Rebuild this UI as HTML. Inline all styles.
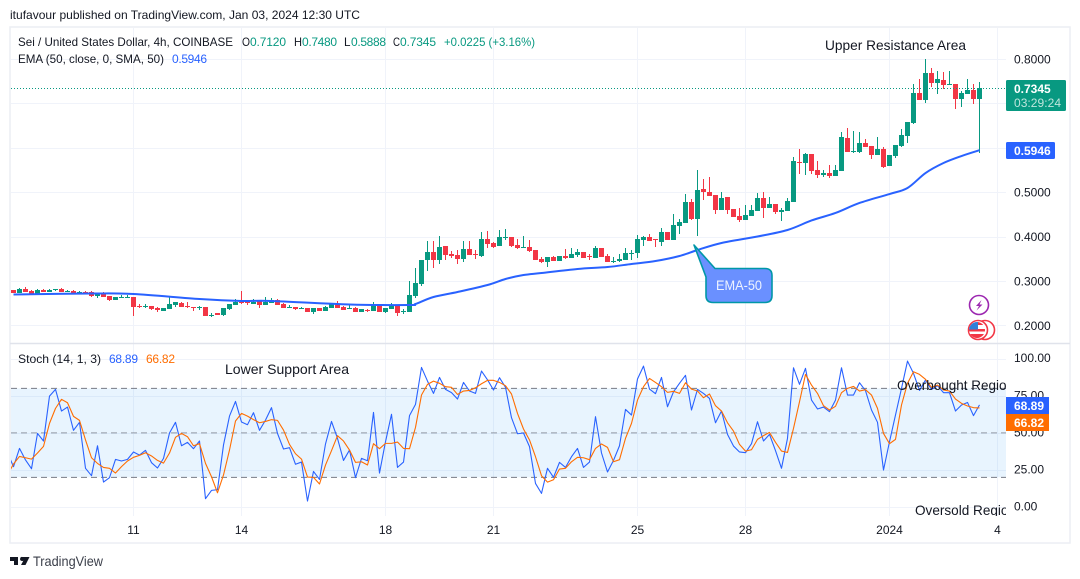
<!DOCTYPE html>
<html lang="en">
<head>
<meta charset="utf-8">
<title>SEI/USD 4h chart</title>
<style>
  html, body { margin: 0; padding: 0; background: #ffffff; width: 1080px; height: 579px; overflow: hidden; }
  svg { display: block; }
  text { font-family: "Liberation Sans", Arial, sans-serif; font-size: 12px; fill: #131722; }
</style>
</head>
<body>
<svg id="chart" xmlns="http://www.w3.org/2000/svg" width="1080" height="579" viewBox="0 0 1080 579">
  <defs>
    <clipPath id="plot-clip"><rect x="11" y="28" width="995" height="488"></rect></clipPath>
    <clipPath id="flag-clip"><circle cx="977" cy="330" r="8"></circle></clipPath>
  </defs>
  <rect x="0" y="0" width="1080" height="579" fill="#ffffff"></rect>
  <g id="grid"></g>
  <rect x="11" y="388.3" width="995" height="89" fill="#2196f3" fill-opacity="0.1"></rect>
  <g id="stoch-levels" clip-path="url(#plot-clip)"></g>
  <g id="candles" clip-path="url(#plot-clip)"></g>
  <line x1="11" x2="1006" y1="88.5" y2="88.5" stroke="#089981" stroke-width="1" stroke-dasharray="1 2"></line>
  <g id="lines" clip-path="url(#plot-clip)"></g>
  <rect x="10" y="27" width="1060" height="516" fill="none" stroke="#eceef4" stroke-width="1.5"></rect>
  <line x1="10" x2="1070" y1="343.5" y2="343.5" stroke="#e0e3eb" stroke-width="1.5"></line>

  <text x="10" y="19" textLength="350" lengthAdjust="spacingAndGlyphs" fill="#2a2e39">itufavour published on TradingView.com, Jan 03, 2024 12:30 UTC</text>

  <g>
    <text x="18" y="46" textLength="215" lengthAdjust="spacingAndGlyphs">Sei / United States Dollar, 4h, COINBASE</text>
    <text x="242" y="46" textLength="8" lengthAdjust="spacingAndGlyphs">O</text>
    <text x="250" y="46" textLength="36" style="fill:#089981">0.7120</text>
    <text x="294" y="46" textLength="8" lengthAdjust="spacingAndGlyphs">H</text>
    <text x="302" y="46" textLength="35" style="fill:#089981">0.7480</text>
    <text x="344" y="46" textLength="6.5" lengthAdjust="spacingAndGlyphs">L</text>
    <text x="351" y="46" textLength="35" style="fill:#089981">0.5888</text>
    <text x="393" y="46" textLength="7" lengthAdjust="spacingAndGlyphs">C</text>
    <text x="400" y="46" textLength="36" style="fill:#089981">0.7345</text>
    <text x="444" y="46" textLength="91" lengthAdjust="spacingAndGlyphs" style="fill:#089981">+0.0225 (+3.16%)</text>
    <text x="18" y="63" textLength="146" lengthAdjust="spacingAndGlyphs">EMA (50, close, 0, SMA, 50)</text>
    <text x="172" y="63" textLength="35" style="fill:#2962ff">0.5946</text>
  </g>

  <g>
    <text x="18" y="363" textLength="83" lengthAdjust="spacingAndGlyphs">Stoch (14, 1, 3)</text>
    <text x="109" y="363" textLength="29" style="fill:#2962ff">68.89</text>
    <text x="146" y="363" textLength="29" style="fill:#ff6d00">66.82</text>
  </g>

  <g clip-path="url(#plot-clip)">
    <text x="825" y="50" textLength="141" lengthAdjust="spacingAndGlyphs" style="font-size:14px">Upper Resistance Area</text>
    <text x="225" y="374" textLength="124" lengthAdjust="spacingAndGlyphs" style="font-size:14px">Lower Support Area</text>
    <text x="897" y="390" textLength="117" lengthAdjust="spacingAndGlyphs" style="font-size:14px">Overbought Region</text>
    <text x="915" y="515" textLength="101" lengthAdjust="spacingAndGlyphs" style="font-size:14px">Oversold Region</text>
  </g>

  <g>
    <path d="M694 245 L715 268.5 L765 268.5 Q772 268.5 772 275.5 L772 295.5 Q772 302.5 765 302.5 L713 302.5 Q706 302.5 706 295.5 L706 277 Z" fill="#6a90ff" stroke="#0097a7" stroke-width="1.6" stroke-linejoin="round"></path>
    <text x="716" y="290" textLength="46" lengthAdjust="spacingAndGlyphs" style="font-size:14px;fill:#eef3ff">EMA-50</text>
  </g>

  <g>
    <circle cx="979" cy="305" r="9.5" fill="#ffffff" stroke="#9c27b0" stroke-width="1.6"></circle>
    <path d="M981.5 300 L976 306 L979 306 L976.5 310.5 L982.5 304.5 L979.5 304.5 Z" fill="#9c27b0"></path>
  </g>
  <g>
    <circle cx="985" cy="330" r="9.5" fill="#ffffff" stroke="#f23645" stroke-width="1.6"></circle>
    <circle cx="978" cy="330" r="9.5" fill="#ffffff" stroke="#f23645" stroke-width="1.6"></circle>
    <g clip-path="url(#flag-clip)">
      <rect x="969" y="322" width="16" height="16" fill="#ffffff"></rect>
      <rect x="969" y="329" width="16" height="2.5" fill="#f23645"></rect>
      <rect x="969" y="334" width="16" height="4" fill="#f23645"></rect>
      <rect x="977" y="322" width="8" height="3" fill="#f23645"></rect>
      <rect x="969" y="322" width="9" height="7.5" fill="#2f7fd8"></rect>
    </g>
  </g>

  <g id="axis-labels"></g>

  <g>
    <rect x="1006" y="80" width="60" height="31" rx="1.5" fill="#089981"></rect>
    <text x="1014" y="93" style="fill:#ffffff;font-weight:bold">0.7345</text>
    <text x="1014" y="107" textLength="47" style="fill:#bfe6dd">03:29:24</text>
  </g>
  <g>
    <rect x="1006" y="142" width="49" height="17" rx="1.5" fill="#2962ff"></rect>
    <text x="1014" y="155" style="fill:#ffffff;font-weight:bold">0.5946</text>
  </g>
  <g>
    <rect x="1006" y="397" width="43" height="17" fill="#2962ff"></rect>
    <text x="1014" y="410" style="fill:#ffffff;font-weight:bold">68.89</text>
  </g>
  <g>
    <rect x="1006" y="414" width="43" height="17" fill="#ff6d00"></rect>
    <text x="1014" y="427" style="fill:#ffffff;font-weight:bold">66.82</text>
  </g>

  <g>
    <path d="M10 557 H18 V565 H14 V561 H10 Z M22.5 557 H29.5 L25.5 565 H21 L24 559.5 A2 2 0 1 1 22.5 557 Z" fill="#131722"></path>
    <text x="33" y="566" textLength="70" lengthAdjust="spacingAndGlyphs" style="font-size:14px;fill:#3b3f4a">TradingView</text>
  </g>
</svg>

<script>
// ---- price series (one entry per 4h candle) ----
const opens = [
  .280,.273,.282,.278,.271,.280,.275,.280,.282,.275,
  .278,.272,.275,.275,.266,.272,.266,.257,.263,.263,
  .264,.244,.242,.244,.239,.233,.237,.246,.251,.244,
  .242,.240,.242,.221,.227,.224,.237,.246,.253,.253,
  .248,.255,.246,.251,.257,.248,.240,.241,.238,.239,
  .230,.239,.232,.239,.248,.241,.237,.239,.230,.235,
  .232,.246,.230,.237,.244,.231,.230,.266,.293,.347,
  .365,.347,.379,.361,.359,.350,.372,.361,.356,.395,
  .386,.379,.397,.399,.381,.376,.377,.370,.350,.343,
  .354,.345,.356,.352,.359,.365,.356,.352,.374,.356,
  .343,.345,.347,.362,.363,.392,.399,.395,.388,.410,
  .392,.424,.431,.478,.440,.507,.501,.494,.460,.489,
  .462,.446,.437,.446,.458,.487,.464,.473,.455,.458,
  .478,.568,.566,.586,.550,.539,.543,.537,.548,.622,
  .591,.591,.611,.604,.584,.597,.559,.582,.604,.627,
  .656,.724,.708,.769,.746,.753,.742,.744,.710,.721,
  .730,.710
];
const highs = [
  .280,.284,.287,.280,.282,.282,.282,.282,.284,.280,
  .280,.278,.278,.278,.272,.275,.266,.264,.268,.269,
  .264,.248,.248,.244,.242,.239,.266,.253,.253,.253,
  .242,.244,.242,.228,.227,.239,.248,.260,.278,.257,
  .260,.255,.264,.262,.260,.250,.246,.241,.242,.239,
  .239,.239,.244,.250,.255,.244,.246,.241,.237,.237,
  .253,.246,.239,.250,.244,.237,.300,.329,.347,.390,
  .390,.401,.379,.368,.370,.390,.390,.370,.411,.413,
  .388,.415,.417,.399,.395,.401,.392,.370,.354,.354,
  .356,.356,.372,.374,.372,.365,.361,.379,.374,.361,
  .353,.361,.374,.370,.404,.401,.406,.395,.419,.410,
  .451,.440,.496,.485,.550,.530,.534,.494,.501,.489,
  .462,.464,.471,.471,.498,.501,.489,.473,.464,.487,
  .580,.597,.589,.586,.571,.550,.562,.562,.636,.645,
  .638,.636,.620,.604,.624,.602,.584,.606,.643,.658,
  .743,.755,.800,.780,.773,.771,.773,.744,.728,.755,
  .744,.748
];
const lows = [
  .273,.273,.275,.271,.271,.275,.275,.278,.275,.275,
  .271,.272,.272,.264,.262,.264,.255,.257,.263,.263,
  .221,.239,.239,.235,.230,.233,.237,.242,.242,.239,
  .233,.235,.221,.219,.224,.222,.235,.246,.248,.246,
  .248,.239,.246,.251,.247,.239,.239,.235,.238,.230,
  .226,.232,.232,.239,.239,.235,.237,.230,.230,.230,
  .232,.230,.228,.237,.221,.226,.230,.262,.289,.323,
  .329,.338,.347,.352,.338,.343,.359,.350,.354,.374,
  .374,.379,.392,.377,.372,.376,.365,.347,.341,.332,
  .345,.345,.350,.352,.354,.352,.347,.352,.354,.343,
  .341,.343,.347,.347,.352,.379,.390,.376,.379,.392,
  .392,.406,.431,.437,.401,.482,.492,.451,.460,.451,
  .444,.433,.437,.446,.458,.442,.464,.451,.435,.458,
  .478,.541,.539,.541,.532,.535,.532,.537,.548,.591,
  .589,.589,.602,.575,.584,.555,.559,.577,.602,.611,
  .654,.708,.701,.737,.721,.733,.742,.687,.692,.721,
  .699,.589
];
const closes = [
  .273,.282,.275,.271,.280,.275,.280,.282,.275,.278,
  .271,.275,.272,.266,.272,.264,.257,.264,.264,.264,
  .242,.242,.244,.237,.235,.239,.248,.253,.242,.242,
  .240,.242,.221,.224,.224,.239,.248,.253,.251,.251,
  .253,.246,.253,.257,.247,.239,.241,.237,.240,.230,
  .239,.232,.241,.250,.239,.235,.239,.230,.237,.232,
  .246,.230,.239,.244,.228,.232,.269,.296,.347,.365,
  .347,.377,.359,.356,.350,.372,.359,.359,.395,.383,
  .377,.399,.399,.379,.374,.377,.368,.347,.343,.354,
  .345,.356,.352,.361,.365,.352,.354,.374,.354,.343,
  .345,.350,.363,.363,.395,.399,.390,.392,.410,.392,
  .426,.433,.478,.440,.505,.501,.492,.460,.487,.460,
  .444,.437,.449,.460,.487,.464,.473,.455,.461,.480,
  .571,.566,.586,.548,.539,.543,.537,.550,.624,.591,
  .593,.611,.602,.584,.597,.557,.584,.606,.629,.658,
  .724,.708,.769,.746,.755,.742,.744,.710,.724,.730,
  .710,.7345
];

// EMA 50, read at selected candles
const emaCandles = [0,13,20,31,38,43,56,66,67,70,74,79,82,85,88,94,99,103,107,111,114,118,124,129,133,137,141,146,149,152,155,158,161];
const emaValues = [.2696,.2718,.2707,.2595,.2550,.2550,.2471,.2459,.2482,.2640,.2752,.2910,.3045,.3135,.3180,.3270,.3315,.3383,.3450,.3563,.3698,.3856,.4002,.4149,.4363,.4532,.4757,.4959,.5095,.5432,.5658,.5815,.5946];

// Stochastic %K and %D; the first entry is the candle just left of the visible range
const stochK = [
  36.6,27.2,39.5,31.7,25.8,49.6,44.5,74.8,79.3,64.7,67.4,
  51.7,57.1,26.1,21.1,41.3,16.8,19.8,32.1,31.0,32.1,
  37.1,35.0,38.2,29.9,26.3,32.8,49.9,57.1,41.3,43.6,
  39.3,44.5,5.6,11.2,11.7,41.8,61.3,71.2,57.3,55.5,
  63.6,51.7,58.6,67.0,49.6,39.1,40.0,28.8,30.3,4.0,
  24.0,18.6,42.5,57.7,46.3,31.4,38.4,19.8,32.8,31.2,
  63.8,22.9,44.0,62.5,26.7,30.3,61.6,69.2,94.1,84.9,
  76.6,87.4,79.3,77.1,72.8,84.0,78.2,76.6,91.7,85.8,
  78.9,87.2,80.7,60.2,49.4,49.9,40.7,15.9,9.2,26.1,
  20.0,30.1,26.7,33.9,39.5,26.7,30.3,60.9,36.4,23.6,
  31.4,41.3,65.8,62.0,86.3,95.0,79.5,76.4,87.4,67.6,
  77.7,83.4,88.8,65.4,79.3,76.6,73.2,56.8,64.7,49.0,
  41.1,37.1,36.6,42.7,57.5,44.5,49.0,38.0,26.1,46.3,
  93.9,82.7,93.5,72.1,66.1,67.4,64.3,72.1,93.9,75.5,
  75.5,83.8,78.4,65.4,57.1,24.9,44.0,62.0,80.0,98.4,
  90.1,78.6,85.6,79.3,81.8,77.1,77.1,64.7,68.8,70.5,
  61.6,68.89
];
const stochD = [
  21.8,29.0,34.1,33.2,32.3,36.4,40.9,56.4,66.5,72.6,70.3,
  61.1,58.4,45.2,33.2,29.4,26.7,26.1,22.9,27.2,31.0,
  33.5,34.8,36.6,34.4,31.4,29.6,36.4,47.0,49.6,47.4,
  41.3,42.7,29.4,20.4,9.6,21.6,38.4,58.0,63.1,61.3,
  58.9,56.8,57.7,58.9,58.4,51.9,42.2,35.9,32.3,20.2,
  20.0,15.5,28.3,38.0,48.1,44.5,38.4,30.1,30.5,28.3,
  42.7,39.3,42.9,42.9,43.8,39.5,39.3,53.7,75.5,82.7,
  84.9,83.4,81.1,80.7,75.9,78.2,78.6,80.4,83.1,85.4,
  85.4,84.0,81.8,76.2,63.1,52.6,45.2,33.9,21.1,16.8,
  18.4,25.6,26.1,30.5,33.5,33.2,31.9,39.5,42.5,40.2,
  30.5,31.9,46.3,56.4,72.1,81.1,86.7,84.0,81.1,77.3,
  78.0,76.6,83.8,79.5,78.2,73.7,76.2,68.3,64.7,56.8,
  51.2,42.2,37.7,38.6,45.6,48.1,50.3,43.6,37.7,36.8,
  53.0,71.0,89.4,82.2,76.6,68.3,65.4,67.9,77.1,80.0,
  81.3,78.2,79.1,75.5,66.5,49.6,42.7,45.6,68.8,83.4,
  91.2,89.4,86.1,80.7,82.2,78.9,78.2,72.8,69.9,68.1,
  67.0,66.82
];

// Axis ticks
const priceGridTicks = [0.8, 0.7, 0.6, 0.5, 0.4, 0.3, 0.2];
const priceLabelTicks = [0.8, 0.5, 0.4, 0.3, 0.2];
const stochTicks = [100, 75, 50, 25, 0];
const stochLevels = [80, 50, 20];
const timeTickCandles = [20, 38, 62, 80, 104, 122, 146, 164];
const timeTickLabels = ['11', '14', '18', '21', '25', '28', '2024', '4'];

// Axis functions
function xCandle(i) { return 13.5 + 6 * i; }
function yPrice(p) { return 59 + (0.8 - p) * 444; }
function yStoch(v) { return 507 - 1.483 * v; }

const SVG_NS = 'http://www.w3.org/2000/svg';
function make(parentId, tag, attrs) {
  const el = document.createElementNS(SVG_NS, tag);
  for (const k in attrs) el.setAttribute(k, attrs[k]);
  document.getElementById(parentId).appendChild(el);
  return el;
}

// Grid
priceGridTicks.forEach(function (p) {
  const el = make('grid', 'line', { x1: 11, x2: 1006, y1: Math.round(yPrice(p)) + 0.5, y2: Math.round(yPrice(p)) + 0.5, stroke: '#f0f3fa', 'stroke-width': 1 });
  
  
});
stochTicks.forEach(function (v) {
  const el = make('grid', 'line', { x1: 11, x2: 1006, y1: Math.round(yStoch(v)) + 0.5, y2: Math.round(yStoch(v)) + 0.5, stroke: '#f0f3fa', 'stroke-width': 1 });
  
  
});
timeTickCandles.forEach(function (i) {
  const el = make('grid', 'line', { x1: xCandle(i), x2: xCandle(i), y1: 28, y2: 516, stroke: '#f0f3fa', 'stroke-width': 1 });
  
  
});

// Stochastic levels
stochLevels.forEach(function (v, n) {
  const el = make('stoch-levels', 'line', { x1: 11, x2: 1006, y1: yStoch(v), y2: yStoch(v), stroke: '#787b86', 'stroke-width': 1, 'stroke-dasharray': '6 4', 'stroke-opacity': n === 1 ? 0.75 : 1 });
  
  
});

// Candles (bodies snapped to whole pixels so they stay crisp)
opens.forEach(function (o, i) {
  const c = closes[i];
  const up = c >= o;
  const color = up ? '#089981' : '#f23645';
  const x = xCandle(i);
  const wick = make('candles', 'line', { x1: x, x2: x, y1: Math.round(yPrice(highs[i])), y2: Math.round(yPrice(lows[i])), stroke: color, 'stroke-width': 1 });
  
  
  const top = Math.round(yPrice(Math.max(o, c)));
  const h = Math.max(1, Math.round(yPrice(Math.min(o, c))) - top);
  const body = make('candles', 'rect', { x: x - 2.5, y: top, width: 5, height: h, fill: color });
  
  
});

// Smooth path through the EMA readings
function smoothPath(xs, ys) {
  let d = 'M' + xs[0].toFixed(2) + ' ' + ys[0].toFixed(2);
  for (let n = 0; n < xs.length - 1; n++) {
    const a = Math.max(0, n - 1);
    const b = Math.min(xs.length - 1, n + 2);
    const c1x = xs[n] + (xs[n + 1] - xs[a]) / 6;
    const c1y = ys[n] + (ys[n + 1] - ys[a]) / 6;
    const c2x = xs[n + 1] - (xs[b] - xs[n]) / 6;
    const c2y = ys[n + 1] - (ys[b] - ys[n]) / 6;
    d += ' C' + c1x.toFixed(2) + ' ' + c1y.toFixed(2) + ' ' + c2x.toFixed(2) + ' ' + c2y.toFixed(2) + ' ' + xs[n + 1].toFixed(2) + ' ' + ys[n + 1].toFixed(2);
  }
  return d;
}

// Indicator lines
const emaLine = make('lines', 'path', { d: smoothPath(emaCandles.map(xCandle), emaValues.map(yPrice)), fill: 'none', stroke: '#2962ff', 'stroke-width': 2, 'stroke-linejoin': 'round' });



const kPoints = stochK.map(function (v, n) { return xCandle(n - 1) + ',' + yStoch(v).toFixed(2); }).join(' ');
const kLine = make('lines', 'polyline', { points: kPoints, fill: 'none', stroke: '#2962ff', 'stroke-width': 1.1, 'stroke-linejoin': 'round' });



const dPoints = stochD.map(function (v, n) { return xCandle(n - 1) + ',' + yStoch(v).toFixed(2); }).join(' ');
const dLine = make('lines', 'polyline', { points: dPoints, fill: 'none', stroke: '#ff6d00', 'stroke-width': 1.1, 'stroke-linejoin': 'round' });



// Axis labels
priceLabelTicks.forEach(function (p) {
  const t = make('axis-labels', 'text', { x: 1014, y: yPrice(p) + 4.5 });
  
  
  t.textContent = p.toFixed(4);
});
stochTicks.forEach(function (v) {
  const t = make('axis-labels', 'text', { x: 1014, y: yStoch(v) + 3.5 });
  
  
  t.textContent = v.toFixed(2);
});
timeTickCandles.forEach(function (i, n) {
  const t = make('axis-labels', 'text', { x: xCandle(i), y: 534, 'text-anchor': 'middle' });
  
  
  t.textContent = timeTickLabels[n];
});
</script>
</body>
</html>
